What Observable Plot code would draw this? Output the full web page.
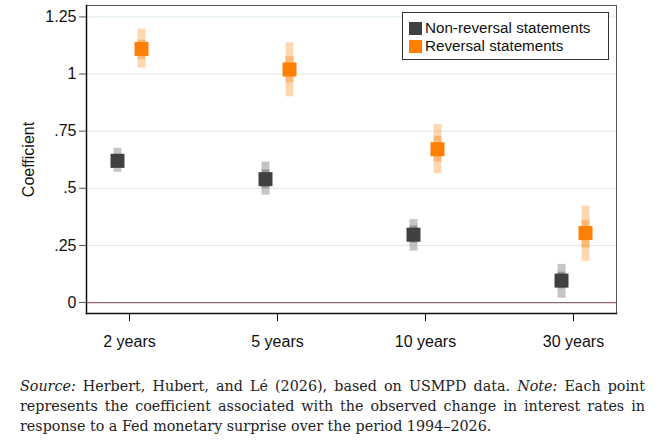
<!DOCTYPE html>
<html>
<head>
<meta charset="utf-8">
<script src="https://cdn.jsdelivr.net/npm/d3@7"></script>
<script src="https://cdn.jsdelivr.net/npm/@observablehq/plot@0.6"></script>
<style>
  body { margin: 0; background: #fff; width: 665px; height: 444px; overflow: hidden; }
  #wrap { position: relative; width: 665px; }
  #legend { position: absolute; left: 402px; top: 12px; width: 205px; height: 46px;
    border: 1px solid #333; background: #fff; font-family: "Liberation Sans", Arial, sans-serif;
    font-size: 15.2px; color: #111; box-sizing: content-box; }
  .item { position: absolute; left: 6px; display: flex; align-items: center; line-height: 16px; }
  .sw { width: 13px; height: 13px; margin-right: 3px; }
  #caption { position: absolute; left: 20px; top: 376px; width: 625px;
    font-family: "DejaVu Serif", "Liberation Serif", serif; font-size: 14.3px; line-height: 20px;
    color: #222; }
  #caption .j { text-align: justify; text-align-last: justify; white-space: nowrap; }
  #caption .l { text-align: left; white-space: nowrap; }
</style>
</head>
<body>
<div id="wrap">
  <div id="chart"></div>
  <div id="legend">
    <div class="item" style="top:7px"><div class="sw" style="background:#404040"></div>Non-reversal statements</div>
    <div class="item" style="top:25px"><div class="sw" style="background:#ff7f00"></div>Reversal statements</div>
  </div>
  <div id="caption">
    <div class="j"><i>Source:</i> Herbert, Hubert, and Lé (2026), based on USMPD data. <i>Note:</i> Each point</div>
    <div class="j">represents the coefficient associated with the observed change in interest rates in</div>
    <div class="l">response to a Fed monetary surprise over the period 1994–2026.</div>
  </div>
</div>
<script>
const horizons = ["2 years", "5 years", "10 years", "30 years"];

const nonCoef = [0.62, 0.54, 0.297, 0.096];
const nonLo95 = [0.57, 0.47, 0.225, 0.019];
const nonHi95 = [0.675, 0.615, 0.363, 0.167];
const nonLo90 = [0.59, 0.50, 0.26, 0.06];
const nonHi90 = [0.65, 0.58, 0.335, 0.133];

const revCoef = [1.11, 1.02, 0.671, 0.304];
const revLo95 = [1.026, 0.90, 0.564, 0.18];
const revHi95 = [1.196, 1.137, 0.78, 0.422];
const revLo90 = [1.064, 0.962, 0.615, 0.238];
const revHi90 = [1.149, 1.076, 0.728, 0.36];

const yTicks = [0, 0.25, 0.5, 0.75, 1, 1.25];
const yTickLabels = ["0", ".25", ".5", ".75", "1", "1.25"];

const non = horizons.map((h, i) => ({h, c: nonCoef[i], lo95: nonLo95[i], hi95: nonHi95[i], lo90: nonLo90[i], hi90: nonHi90[i]}));
const rev = horizons.map((h, i) => ({h, c: revCoef[i], lo95: revLo95[i], hi95: revHi95[i], lo90: revLo90[i], hi90: revHi90[i]}));

const dark = "#404040", orange = "#ff7f00";

function series(data, color, dx) {
  return [
    Plot.ruleX(data, {x: "h", y1: "lo95", y2: "hi95", dx, stroke: color, strokeWidth: 8, strokeOpacity: 0.3}),
    Plot.ruleX(data, {x: "h", y1: "lo90", y2: "hi90", dx, stroke: color, strokeWidth: 8, strokeOpacity: 0.35}),
    Plot.dot(data, {x: "h", y: "c", dx, symbol: "square", r: 7.9, fill: color, stroke: null})
  ];
}

const chart = Plot.plot({
  width: 665,
  height: 362,
  marginLeft: 86,
  marginRight: 49,
  marginTop: 5,
  marginBottom: 49,
  style: {fontFamily: "'Liberation Sans', Arial, sans-serif", fontSize: "16px", color: "#111", background: "#fff"},
  x: {type: "point", domain: horizons, padding: 0.29},
  y: {domain: [-0.048, 1.30]},
  marks: [
    Plot.gridY(yTicks, {stroke: "#dde9ea", strokeOpacity: 1}),
    Plot.ruleY([0], {stroke: "#8c6a6a", strokeWidth: 1.2}),
    Plot.frame({stroke: "#555"}),
    Plot.frame({anchor: "left", stroke: "#111", strokeWidth: 1.5}),
    Plot.frame({anchor: "bottom", stroke: "#111", strokeWidth: 1.5}),
    Plot.axisY(yTicks, {tickFormat: (d, i) => yTickLabels[i], tickSize: 7, tickPadding: 3, stroke: "#555",
      label: "Coefficient", labelAnchor: "center", labelArrow: "none", labelOffset: 64}),
    Plot.axisX({tickSize: 8, tickPadding: 14, label: null, stroke: "#111"}),
    ...series(non, dark, -12),
    ...series(rev, orange, 12)
  ]
});
document.getElementById("chart").appendChild(chart);
</script>
</body>
</html>
